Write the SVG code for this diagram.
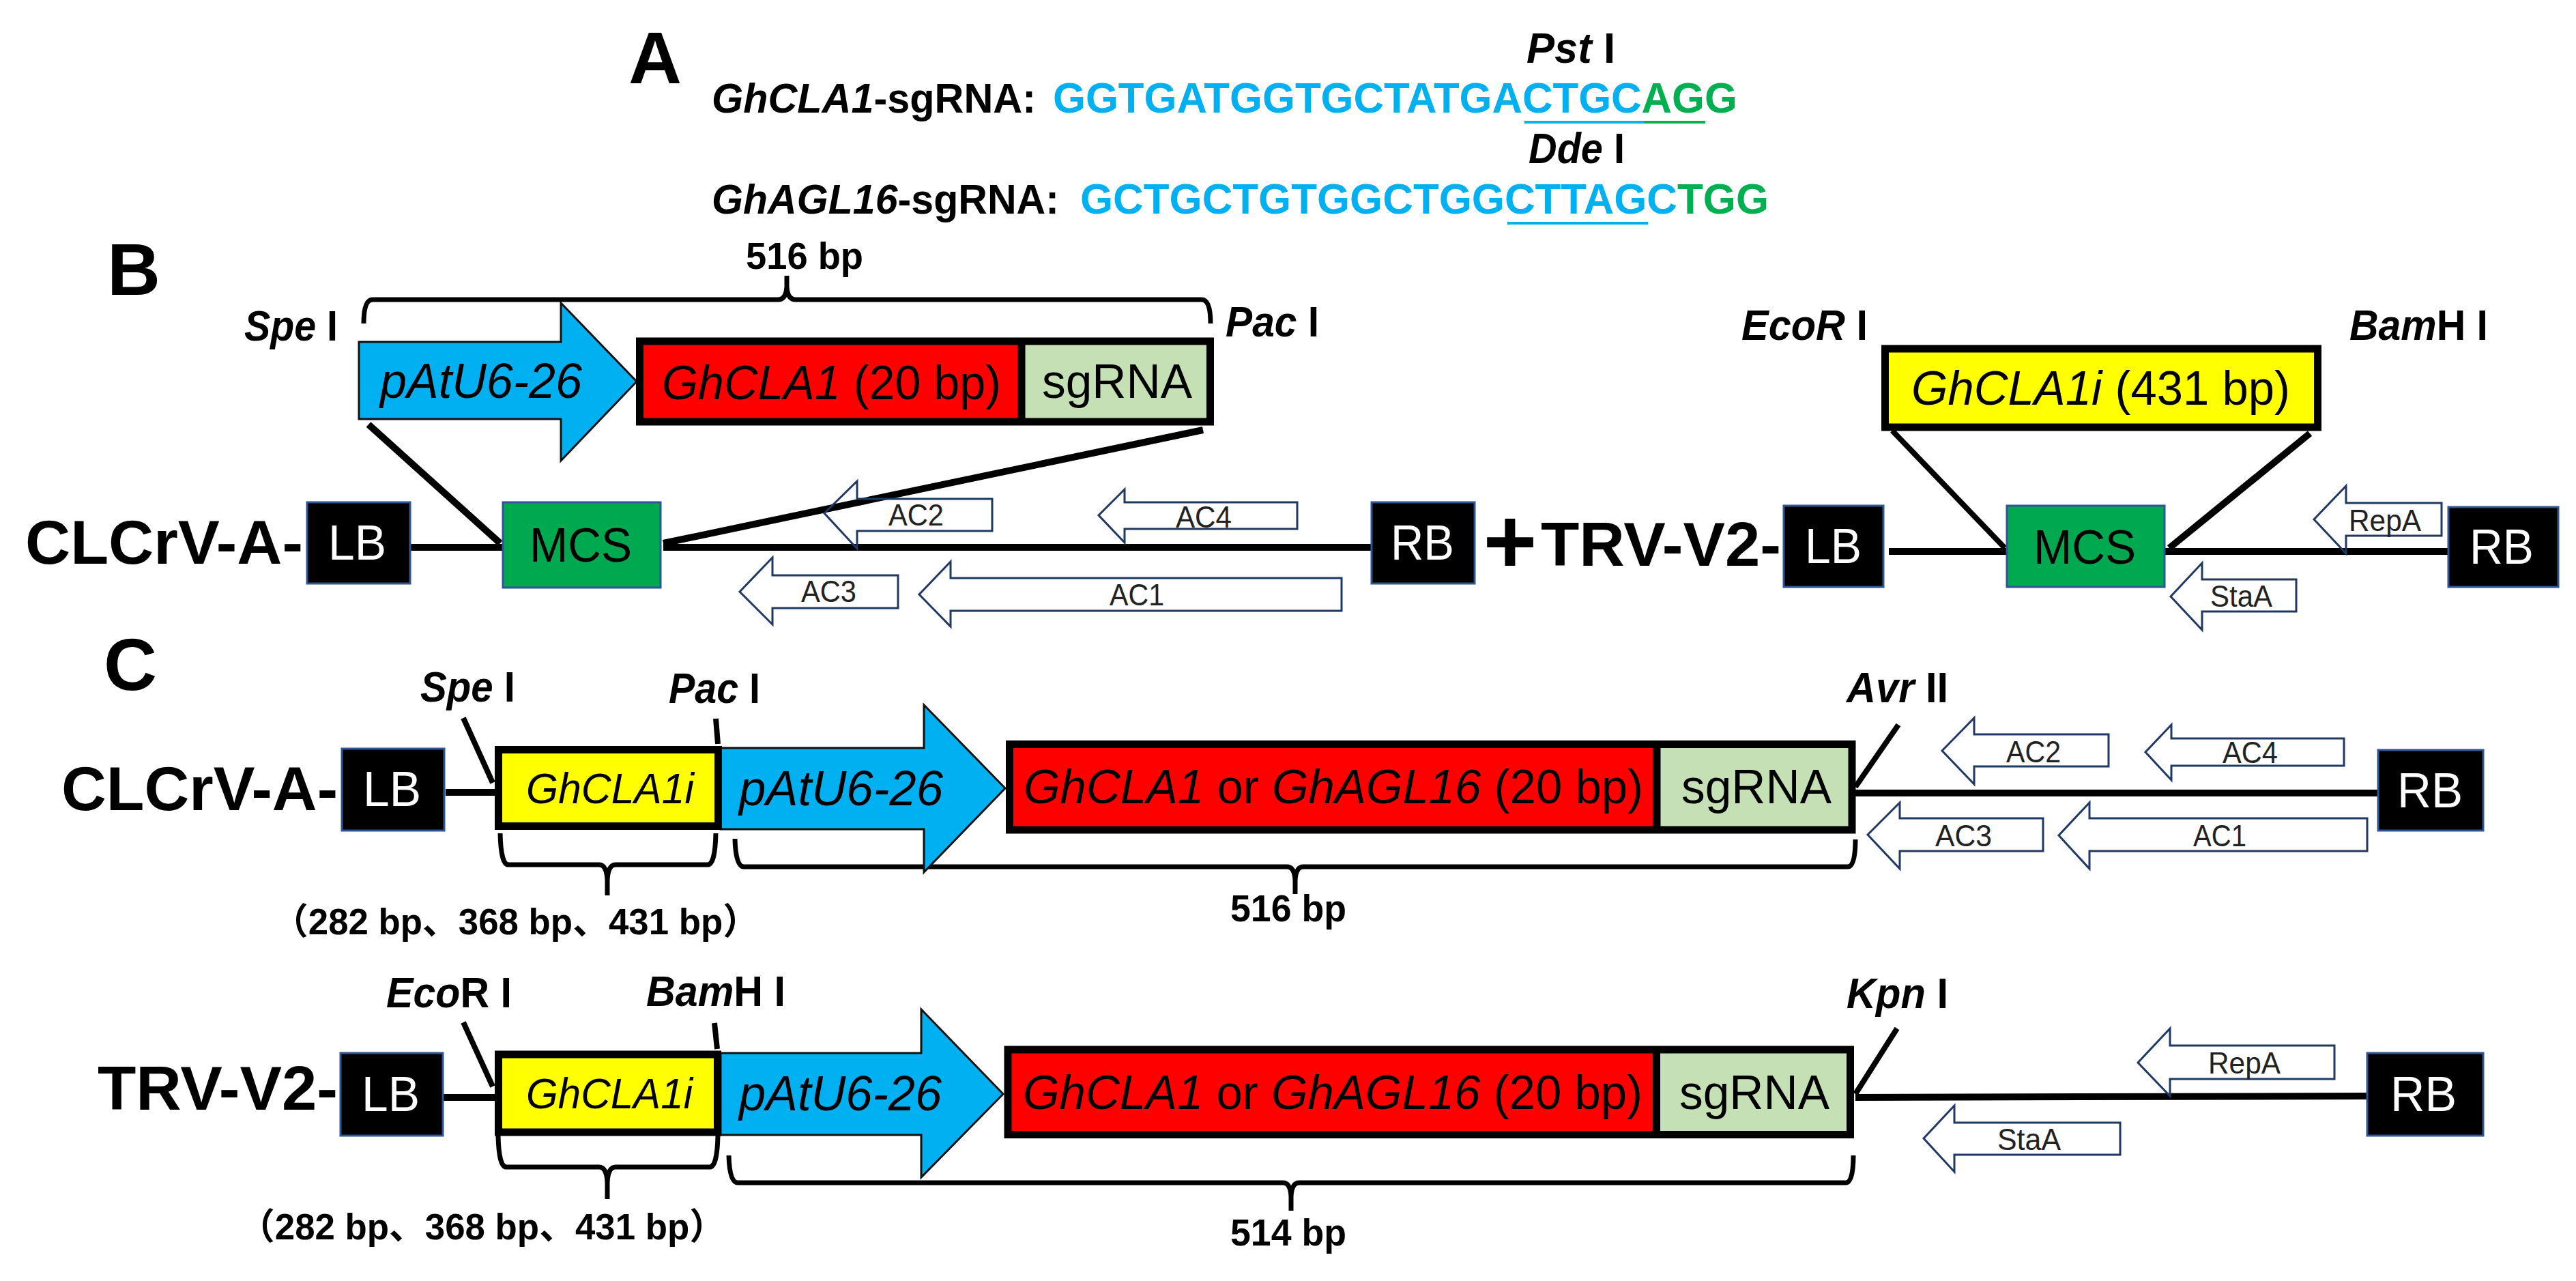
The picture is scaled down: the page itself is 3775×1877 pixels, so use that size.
<svg xmlns="http://www.w3.org/2000/svg" width="3775" height="1877" viewBox="0 0 3775 1877">
<style>
text{font-family:"Liberation Sans","Noto Sans CJK SC",sans-serif;fill:#000}
.i{font-style:italic}
.panel{font-weight:700;font-size:108px}
.site{font-weight:700;font-size:63px}
.name{font-weight:700;font-size:91px}
.seq{font-weight:700;font-size:63px;fill:#00B0F0}
.gr{fill:#00B050}
.lab{font-weight:700;font-size:62px}
.bp{font-weight:700;font-size:55px}
.sz{font-weight:700;font-size:53px}
.big{font-size:71px}
.prm{font-size:72px;font-style:italic}
.ii{font-size:63px;font-style:italic}
.mc{font-size:70px}
.orf{font-size:44px;fill:#222}
.bw{fill:#fff;font-size:72px}
.blk{fill:#000;stroke:#2F5597;stroke-width:3}
.mcs{fill:#00A94F;stroke:#2F5597;stroke-width:3}
.orfa{fill:none;stroke:#1F3864;stroke-width:3}
.prom{fill:#00B0F0;stroke:#111;stroke-width:3}
.red{fill:#F00}
.sg{fill:#C5E0B4}
.yel{fill:#FF0}
.fr{fill:none;stroke:#000;stroke-width:11}
.l10{fill:none;stroke:#000;stroke-width:10}
.l8{fill:none;stroke:#000;stroke-width:8}
.br{fill:none;stroke:#000;stroke-width:7}
.u{stroke-width:4;fill:none}
</style>
<rect width="3775" height="1877" fill="#fff"/>

<g id="connectors">
<path class="l10" d="M602 802H737M972 802H2010"/>
<path class="l10" d="M540 622L733 796M1763 630L972 796"/>
<path class="l10" d="M2768 808H2941M3172 808H3588"/>
<path class="l8" d="M2773 631L2938 803"/>
<path class="l10" d="M3385 635L3179 803"/>
<path class="l10" d="M653 1161H725M2719 1162H3485"/>
<path class="l8" d="M679 1052L722 1147M1049 1053L1052 1090"/>
<path class="l8" d="M2782 1062L2719 1153"/>
<path class="l10" d="M649 1608H725M2719 1608L3469 1606"/>
<path class="l8" d="M679 1498L722 1592M1047 1499L1051 1537"/>
<path class="l8" d="M2780 1507L2719 1603"/>
<path class="br" d="M533 474Q533 439 546 439H1140Q1152 439 1153 420V404M1774 474Q1774 439 1761 439H1166Q1154 439 1153 420"/>
<path class="br" d="M733 1221Q734 1267 745 1267H878Q889 1267 890 1290V1312M1049 1221Q1048 1267 1037 1267H902Q891 1267 890 1290"/>
<path class="br" d="M1077 1229Q1078 1270 1090 1270H1886Q1897 1270 1898 1290V1310M2719 1230Q2719 1270 2708 1270H1910Q1899 1270 1898 1290"/>
<path class="br" d="M730 1664Q731 1710 742 1710H878Q889 1710 890 1733V1757M1052 1664Q1051 1710 1040 1710H902Q891 1710 890 1733"/>
<path class="br" d="M1068 1693Q1069 1733 1081 1733H1880Q1891 1733 1892 1753V1774M2716 1693Q2716 1733 2705 1733H1904Q1893 1733 1892 1753"/>
</g>

<g id="panel-A">
<text class="panel" x="921" y="122">A</text>
<text class="site" x="2237" y="92" textLength="130" lengthAdjust="spacingAndGlyphs"><tspan class="i">Pst</tspan> I</text>
<text class="lab" x="1043" y="165" textLength="475" lengthAdjust="spacingAndGlyphs"><tspan class="i">GhCLA1</tspan>-sgRNA:</text>
<text class="seq" x="1543" y="165" textLength="1003" lengthAdjust="spacingAndGlyphs">GGTGATGGTGCTATGACTGC<tspan class="gr">AGG</tspan></text>
<path class="u" stroke="#00B0F0" d="M2234 179H2410"/>
<path class="u" stroke="#00B050" d="M2410 179H2499"/>
<text class="site" x="2240" y="239" textLength="141" lengthAdjust="spacingAndGlyphs"><tspan class="i">Dde</tspan> I</text>
<text class="lab" x="1043" y="313" textLength="509" lengthAdjust="spacingAndGlyphs"><tspan class="i">GhAGL16</tspan>-sgRNA:</text>
<text class="seq" x="1583" y="313" textLength="1009" lengthAdjust="spacingAndGlyphs">GCTGCTGTGGCTGGCTTAGC<tspan class="gr">TGG</tspan></text>
<path class="u" stroke="#00B0F0" d="M2209 327H2415"/>
</g>

<g id="panel-B-labels">
<text class="panel" x="157" y="432">B</text>
<text class="bp" x="1093" y="394" textLength="172" lengthAdjust="spacingAndGlyphs">516 bp</text>
<text class="site" x="358" y="499" textLength="137" lengthAdjust="spacingAndGlyphs"><tspan class="i">Spe</tspan> I</text>
<text class="site" x="1796" y="493" textLength="137" lengthAdjust="spacingAndGlyphs"><tspan class="i">Pac</tspan> I</text>
<text class="site" x="2552" y="498" textLength="185" lengthAdjust="spacingAndGlyphs"><tspan class="i">EcoR</tspan> I</text>
<text class="site" x="3443" y="498" textLength="203" lengthAdjust="spacingAndGlyphs"><tspan class="i">Bam</tspan>H I</text>
<text class="name" x="37" y="826" textLength="407" lengthAdjust="spacingAndGlyphs">CLCrV-A-</text>
<text style="font-weight:700;font-size:135px" text-anchor="middle" x="2213" y="840">+</text>
<text class="name" x="2258" y="829" textLength="352" lengthAdjust="spacingAndGlyphs">TRV-V2-</text>
</g>

<g id="B-promoter">
<polygon class="prom" points="526,501 822,501 822,444 933,559 822,675 822,614 526,614"/>
<text class="prm" x="557" y="583" textLength="296" lengthAdjust="spacingAndGlyphs">pAtU6-26</text>
</g>
<g id="B-sgRNA-cassette">
<rect class="red" x="937" y="500" width="560" height="118"/>
<rect class="sg" x="1497" y="500" width="277" height="118"/>
<path class="fr" d="M937.500 500H1773.500V618H937.500ZM1497 500V618"/>
<text class="big" x="970" y="585" textLength="497" lengthAdjust="spacingAndGlyphs"><tspan class="i">GhCLA1</tspan> (20 bp)</text>
<text class="big" x="1527" y="583" textLength="220" lengthAdjust="spacingAndGlyphs">sgRNA</text>
</g>
<g id="B-LB1"><rect class="blk" x="450" y="736" width="151" height="119"/><text class="bw" x="481" y="820" textLength="85" lengthAdjust="spacingAndGlyphs">LB</text></g>
<g id="B-MCS1"><rect class="mcs" x="737" y="736" width="231" height="125"/><text class="mc" x="776" y="823" textLength="150" lengthAdjust="spacingAndGlyphs">MCS</text></g>
<g id="B-AC2"><polygon class="orfa" points="1208,752 1256,705 1256,731 1454,731 1454,778 1256,778 1256,804"/><text class="orf" x="1302" y="770" textLength="81" lengthAdjust="spacingAndGlyphs">AC2</text></g>
<g id="B-AC4"><polygon class="orfa" points="1610,755 1648,717 1648,736 1901,736 1901,775 1648,775 1648,795"/><text class="orf" x="1723" y="773" textLength="82" lengthAdjust="spacingAndGlyphs">AC4</text></g>
<g id="B-AC3"><polygon class="orfa" points="1084,867 1132,817 1132,843 1316,843 1316,891 1132,891 1132,915"/><text class="orf" x="1174" y="882" textLength="81" lengthAdjust="spacingAndGlyphs">AC3</text></g>
<g id="B-AC1"><polygon class="orfa" points="1347,871 1393,823 1393,847 1966,847 1966,895 1393,895 1393,918"/><text class="orf" x="1626" y="887" textLength="80" lengthAdjust="spacingAndGlyphs">AC1</text></g>
<g id="B-RB1"><rect class="blk" x="2010" y="736" width="151" height="119"/><text class="bw" x="2038" y="820" textLength="93" lengthAdjust="spacingAndGlyphs">RB</text></g>

<g id="B-GhCLA1i">
<rect class="yel" x="2762" y="511" width="635" height="115"/>
<rect class="fr" x="2762.500" y="511" width="634" height="115"/>
<text class="big" x="2801" y="593" textLength="555" lengthAdjust="spacingAndGlyphs"><tspan class="i">GhCLA1i</tspan> (431 bp)</text>
</g>
<g id="B-LB2"><rect class="blk" x="2614" y="741" width="146" height="119"/><text class="bw" x="2645" y="825" textLength="83" lengthAdjust="spacingAndGlyphs">LB</text></g>
<g id="B-MCS2"><rect class="mcs" x="2941" y="741" width="231" height="119"/><text class="mc" x="2980" y="826" textLength="150" lengthAdjust="spacingAndGlyphs">MCS</text></g>
<g id="B-RepA"><polygon class="orfa" points="3391,761 3438,712 3438,737 3578,737 3578,785 3438,785 3438,811"/><text class="orf" x="3442" y="778" textLength="106" lengthAdjust="spacingAndGlyphs">RepA</text></g>
<g id="B-StaA"><polygon class="orfa" points="3181,874 3227,825 3227,849 3365,849 3365,896 3227,896 3227,923"/><text class="orf" x="3239" y="889" textLength="91" lengthAdjust="spacingAndGlyphs">StaA</text></g>
<g id="B-RB2"><rect class="blk" x="3588" y="743" width="161" height="117"/><text class="bw" x="3619" y="826" textLength="94" lengthAdjust="spacingAndGlyphs">RB</text></g>

<g id="panel-C-labels">
<text class="panel" x="152" y="1011">C</text>
<text class="site" x="616" y="1028" textLength="139" lengthAdjust="spacingAndGlyphs"><tspan class="i">Spe</tspan> I</text>
<text class="site" x="980" y="1030" textLength="134" lengthAdjust="spacingAndGlyphs"><tspan class="i">Pac</tspan> I</text>
<text class="site" x="2706" y="1029" textLength="149" lengthAdjust="spacingAndGlyphs"><tspan class="i">Avr</tspan> II</text>
<text class="name" x="90" y="1187" textLength="405" lengthAdjust="spacingAndGlyphs">CLCrV-A-</text>
<text class="sz" x="399" y="1369" textLength="713" lengthAdjust="spacingAndGlyphs">（282 bp、368 bp、431 bp）</text>
<text class="bp" x="1803" y="1350" textLength="170" lengthAdjust="spacingAndGlyphs">516 bp</text>
<text class="site" x="566" y="1476" textLength="184" lengthAdjust="spacingAndGlyphs"><tspan class="i">Eco</tspan>R I</text>
<text class="site" x="947" y="1474" textLength="204" lengthAdjust="spacingAndGlyphs"><tspan class="i">Bam</tspan>H I</text>
<text class="site" x="2706" y="1477" textLength="149" lengthAdjust="spacingAndGlyphs"><tspan class="i">Kpn</tspan> I</text>
<text class="name" x="143" y="1626" textLength="352" lengthAdjust="spacingAndGlyphs">TRV-V2-</text>
<text class="sz" x="350" y="1816" textLength="713" lengthAdjust="spacingAndGlyphs">（282 bp、368 bp、431 bp）</text>
<text class="bp" x="1803" y="1825" textLength="170" lengthAdjust="spacingAndGlyphs">514 bp</text>
</g>

<g id="C1-LB"><rect class="blk" x="501" y="1097" width="150" height="120"/><text class="bw" x="532" y="1181" textLength="85" lengthAdjust="spacingAndGlyphs">LB</text></g>
<g id="C1-promoter">
<polygon class="prom" points="1056,1096 1354,1096 1354,1033 1473,1155 1354,1278 1354,1215 1056,1215"/>
<text class="prm" x="1083" y="1180" textLength="299" lengthAdjust="spacingAndGlyphs">pAtU6-26</text>
</g>
<g id="C1-GhCLA1i">
<rect class="yel" x="730" y="1098" width="322" height="113"/>
<rect class="fr" x="730.500" y="1098.500" width="322" height="112"/>
<text class="ii" x="771" y="1177" textLength="246" lengthAdjust="spacingAndGlyphs">GhCLA1i</text>
</g>
<g id="C1-cassette">
<rect class="red" x="1479" y="1090" width="950" height="126"/>
<rect class="sg" x="2429" y="1090" width="285" height="126"/>
<path class="fr" d="M1479.500 1090.500H2714V1216H1479.500ZM2428 1090.500V1216"/>
<text class="big" x="1500" y="1177" textLength="908" lengthAdjust="spacingAndGlyphs"><tspan class="i">GhCLA1</tspan> or <tspan class="i">GhAGL16</tspan> (20 bp)</text>
<text class="big" x="2464" y="1177" textLength="220" lengthAdjust="spacingAndGlyphs">sgRNA</text>
</g>
<g id="C1-AC2"><polygon class="orfa" points="2846,1100 2893,1052 2893,1076 3090,1076 3090,1123 2893,1123 2893,1149"/><text class="orf" x="2940" y="1117" textLength="80" lengthAdjust="spacingAndGlyphs">AC2</text></g>
<g id="C1-AC4"><polygon class="orfa" points="3144,1102 3182,1062 3182,1082 3435,1082 3435,1122 3182,1122 3182,1143"/><text class="orf" x="3257" y="1118" textLength="81" lengthAdjust="spacingAndGlyphs">AC4</text></g>
<g id="C1-AC3"><polygon class="orfa" points="2737,1223 2784,1176 2784,1199 2994,1199 2994,1247 2784,1247 2784,1273"/><text class="orf" x="2836" y="1240" textLength="83" lengthAdjust="spacingAndGlyphs">AC3</text></g>
<g id="C1-AC1"><polygon class="orfa" points="3017,1224 3062,1176 3062,1199 3469,1199 3469,1247 3062,1247 3062,1273"/><text class="orf" x="3214" y="1240" textLength="78" lengthAdjust="spacingAndGlyphs">AC1</text></g>
<g id="C1-RB"><rect class="blk" x="3485" y="1099" width="154" height="118"/><text class="bw" x="3513" y="1183" textLength="96" lengthAdjust="spacingAndGlyphs">RB</text></g>

<g id="C2-LB"><rect class="blk" x="499" y="1543" width="150" height="121"/><text class="bw" x="530" y="1628" textLength="85" lengthAdjust="spacingAndGlyphs">LB</text></g>
<g id="C2-promoter">
<polygon class="prom" points="1056,1543 1350,1543 1350,1479 1470,1603 1350,1725 1350,1663 1056,1663"/>
<text class="prm" x="1083" y="1627" textLength="297" lengthAdjust="spacingAndGlyphs">pAtU6-26</text>
</g>
<g id="C2-GhCLA1i">
<rect class="yel" x="730" y="1545" width="322" height="114"/>
<rect class="fr" x="730.500" y="1545" width="321" height="114"/>
<text class="ii" x="771" y="1624" textLength="244" lengthAdjust="spacingAndGlyphs">GhCLA1i</text>
</g>
<g id="C2-cassette">
<rect class="red" x="1477" y="1538" width="950" height="125"/>
<rect class="sg" x="2427" y="1538" width="285" height="125"/>
<path class="fr" d="M1477 1538H2711.500V1662.500H1477ZM2427.500 1538V1663"/>
<text class="big" x="1499" y="1625" textLength="908" lengthAdjust="spacingAndGlyphs"><tspan class="i">GhCLA1</tspan> or <tspan class="i">GhAGL16</tspan> (20 bp)</text>
<text class="big" x="2461" y="1625" textLength="220" lengthAdjust="spacingAndGlyphs">sgRNA</text>
</g>
<g id="C2-RepA"><polygon class="orfa" points="3133,1557 3180,1507 3180,1532 3421,1532 3421,1581 3180,1581 3180,1606"/><text class="orf" x="3236" y="1573" textLength="106" lengthAdjust="spacingAndGlyphs">RepA</text></g>
<g id="C2-StaA"><polygon class="orfa" points="2819,1668 2864,1620 2864,1645 3107,1645 3107,1692 2864,1692 2864,1717"/><text class="orf" x="2927" y="1685" textLength="93" lengthAdjust="spacingAndGlyphs">StaA</text></g>
<g id="C2-RB"><rect class="blk" x="3469" y="1543" width="170" height="121"/><text class="bw" x="3503" y="1628" textLength="97" lengthAdjust="spacingAndGlyphs">RB</text></g>
</svg>
